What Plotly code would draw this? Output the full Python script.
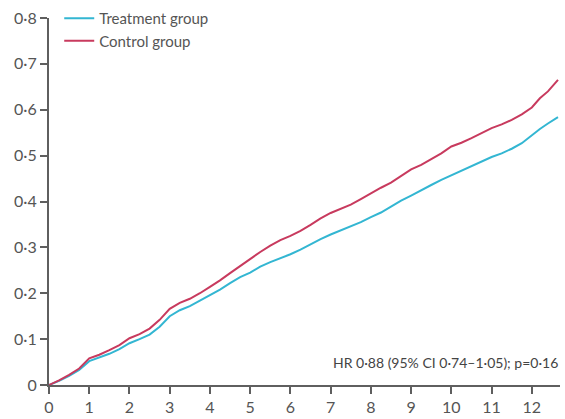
import plotly.graph_objects as go

# Follow-up time (years)
years = [0, 0.25, 0.5, 0.75, 1.0, 1.25, 1.5, 1.75, 2.0, 2.25, 2.5, 2.75,
         3.0, 3.25, 3.5, 3.75, 4.0, 4.25, 4.5, 4.75, 5.0, 5.25, 5.5, 5.75,
         6.0, 6.25, 6.5, 6.75, 7.0, 7.25, 7.5, 7.75, 8.0, 8.25, 8.5, 8.75,
         9.0, 9.25, 9.5, 9.75, 10.0, 10.25, 10.5, 10.75, 11.0, 11.25, 11.5,
         11.75, 12.0, 12.2, 12.4, 12.65]

# Cumulative incidence, treatment group
treatment = [0, 0.009, 0.02, 0.033, 0.052, 0.06, 0.068, 0.078, 0.091, 0.1,
             0.11, 0.127, 0.15, 0.163, 0.172, 0.184, 0.196, 0.208, 0.222,
             0.235, 0.245, 0.258, 0.268, 0.276, 0.285, 0.295, 0.307, 0.318,
             0.328, 0.337, 0.345, 0.355, 0.366, 0.376, 0.389, 0.402, 0.413,
             0.425, 0.436, 0.447, 0.457, 0.467, 0.477, 0.488, 0.497, 0.505,
             0.515, 0.527, 0.545, 0.558, 0.57, 0.584]

# Cumulative incidence, control group
control = [0, 0.01, 0.022, 0.036, 0.058, 0.066, 0.076, 0.087, 0.102, 0.111,
           0.123, 0.142, 0.166, 0.179, 0.188, 0.2, 0.214, 0.228, 0.244, 0.26,
           0.276, 0.29, 0.304, 0.316, 0.325, 0.336, 0.349, 0.363, 0.375,
           0.384, 0.393, 0.405, 0.418, 0.43, 0.441, 0.456, 0.47, 0.48, 0.492,
           0.505, 0.52, 0.528, 0.538, 0.549, 0.56, 0.568, 0.578, 0.59, 0.605,
           0.625, 0.64, 0.665]

x_ticks = list(range(0, 13))
x_labels = [str(v) for v in x_ticks]
y_ticks = [0, 0.1, 0.2, 0.3, 0.4, 0.5, 0.6, 0.7, 0.8]
y_labels = ["0", "0·1", "0·2", "0·3", "0·4", "0·5", "0·6", "0·7", "0·8"]

TEAL = "#33b6d2"
RED = "#c83a5e"
GREY = "#5f5f5f"
FONT = "Lato"

fig = go.Figure()
fig.add_trace(go.Scatter(x=years, y=treatment, mode="lines", name="Treatment group",
                         line=dict(color=TEAL, width=2)))
fig.add_trace(go.Scatter(x=years, y=control, mode="lines", name="Control group",
                         line=dict(color=RED, width=2)))

fig.add_annotation(x=1, y=0.0, xref="paper", yref="paper", xanchor="right", yanchor="bottom",
                   yshift=12, showarrow=False,
                   text="HR 0·88 (95% CI 0·74–1·05); p=0·16",
                   font=dict(family=FONT, size=14, color="#444"))

axis_common = dict(showline=True, linecolor=GREY, linewidth=2, ticks="outside",
                   tickcolor=GREY, tickwidth=2, ticklen=7, showgrid=False, zeroline=False,
                   automargin=False,
                   tickfont=dict(family=FONT, size=16, color="#555"))

fig.update_layout(
    width=565, height=419,
    margin=dict(l=49, r=5, t=18, b=34, autoexpand=False),
    paper_bgcolor="white", plot_bgcolor="white",
    showlegend=True,
    legend=dict(x=0.02, y=0.995, xref="paper", yref="container",
                xanchor="left", yanchor="top",
                bgcolor="rgba(0,0,0,0)", font=dict(family=FONT, size=15, color="#555"),
                itemwidth=30, tracegroupgap=0),
    xaxis=dict(range=[0, 12.7], tickvals=x_ticks, ticktext=x_labels, **axis_common),
    yaxis=dict(range=[0, 0.8], tickvals=y_ticks, ticktext=y_labels, **axis_common),
)

fig.write_html("out.html")
